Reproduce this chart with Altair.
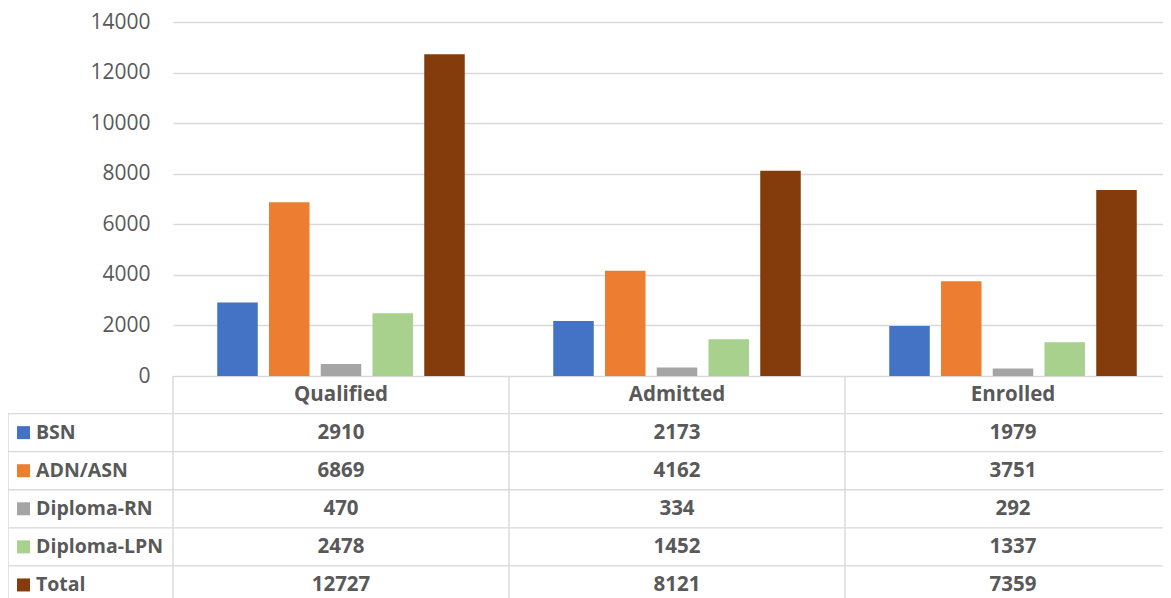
import altair as alt
import pandas as pd

categories = ["Qualified", "Admitted", "Enrolled"]
series = ["BSN", "ADN/ASN", "Diploma-RN", "Diploma-LPN", "Total"]
bsn = [2910, 2173, 1979]
adn_asn = [6869, 4162, 3751]
diploma_rn = [470, 334, 292]
diploma_lpn = [2478, 1452, 1337]
total = [12727, 8121, 7359]
colors = ["#4472C4", "#ED7D31", "#A5A5A5", "#A9D18E", "#843C0C"]
y_ticks = [0, 2000, 4000, 6000, 8000, 10000, 12000, 14000]

values = {
    "BSN": bsn,
    "ADN/ASN": adn_asn,
    "Diploma-RN": diploma_rn,
    "Diploma-LPN": diploma_lpn,
    "Total": total,
}
records = []
for s in series:
    for c, v in zip(categories, values[s]):
        records.append({"category": c, "series": s, "value": v})
df = pd.DataFrame(records)
header_df = pd.DataFrame({"category": categories, "row": ["_header"] * len(categories)})
series_df = pd.DataFrame({"series": series})
first_row_df = pd.DataFrame({"series": series[:1]})
cat_df = pd.DataFrame({"category": categories})

W = 990          # visible plot width (page clips the rest, as in the reference)
X_RANGE = 1008   # full width of the three table columns
H = 582
PLOT_H = 354
FONT = "Open Sans"
TXT = "#595959"
LINE = "#d9d9d9"
LW = 1.4
TFS = 20.5
LFS = 19.5

row_domain = ["_header"] + series
xs = alt.Scale(domain=categories, range=[0, X_RANGE], paddingInner=0, paddingOuter=0)


def row_scale():
    return alt.Scale(domain=row_domain, range=[353.5, 582], paddingInner=0, paddingOuter=0)


color_scale = alt.Scale(domain=series, range=colors)

bars = alt.Chart(df).mark_bar().encode(
    x=alt.X("category:N", scale=xs, axis=None),
    xOffset=alt.XOffset("series:N", sort=series,
                        scale=alt.Scale(domain=series, paddingInner=0.217, paddingOuter=0.855)),
    y=alt.Y("value:Q",
            scale=alt.Scale(domain=[0, 14000], range=[PLOT_H, 0], nice=False),
            axis=alt.Axis(values=y_ticks, format="d", grid=True, gridColor=LINE, gridWidth=LW,
                          domain=False, ticks=False, labelPadding=23, labelFont=FONT,
                          labelFontSize=21, labelColor=TXT, title=None)),
    color=alt.Color("series:N", scale=color_scale, legend=None),
)

rules_h = alt.Chart(series_df).mark_rule(color=LINE, strokeWidth=LW).encode(
    y=alt.Y("series:N", scale=row_scale(), bandPosition=0, axis=None),
    x=alt.value(-165),
    x2=alt.value(W),
)

rules_v = alt.Chart(cat_df).mark_rule(color=LINE, strokeWidth=LW).encode(
    x=alt.X("category:N", scale=xs, bandPosition=0, axis=None),
    y=alt.value(PLOT_H),
    y2=alt.value(H),
)

left_border = alt.Chart(first_row_df).mark_rule(color=LINE, strokeWidth=LW).encode(
    y=alt.Y("series:N", scale=row_scale(), bandPosition=0, axis=None),
    y2=alt.value(H),
    x=alt.value(-165),
)

cells = alt.Chart(df).mark_text(font=FONT, fontSize=TFS, fontWeight="bold", color=TXT).encode(
    x=alt.X("category:N", scale=xs, axis=None),
    y=alt.Y("series:N", scale=row_scale(), axis=None),
    text=alt.Text("value:Q", format="d"),
)

header = alt.Chart(header_df).mark_text(font=FONT, fontSize=TFS, fontWeight="bold", color=TXT).encode(
    x=alt.X("category:N", scale=xs, axis=None),
    y=alt.Y("row:N", scale=row_scale(), axis=None),
    text="category:N",
)

keys = alt.Chart(series_df).mark_square(size=169, opacity=1, filled=True).encode(
    x=alt.value(-149.5),
    y=alt.Y("series:N", scale=row_scale(), axis=None),
    color=alt.Color("series:N", scale=color_scale, legend=None),
)

labels = alt.Chart(series_df).mark_text(font=FONT, fontSize=LFS, fontWeight="bold", color=TXT,
                                        align="left").encode(
    x=alt.value(-137),
    y=alt.Y("series:N", scale=row_scale(), axis=None),
    text="series:N",
)

chart = alt.layer(rules_h, rules_v, left_border, bars, cells, header, keys, labels).resolve_scale(
    y="independent"
).properties(
    width=W,
    height=H,
    autosize=alt.AutoSizeParams(type="none"),
    padding={"left": 165, "top": 14, "right": 0, "bottom": 0},
    background="white",
).configure_view(stroke=None)

chart.save("out.html", embed_options={"renderer": "svg", "actions": False})
